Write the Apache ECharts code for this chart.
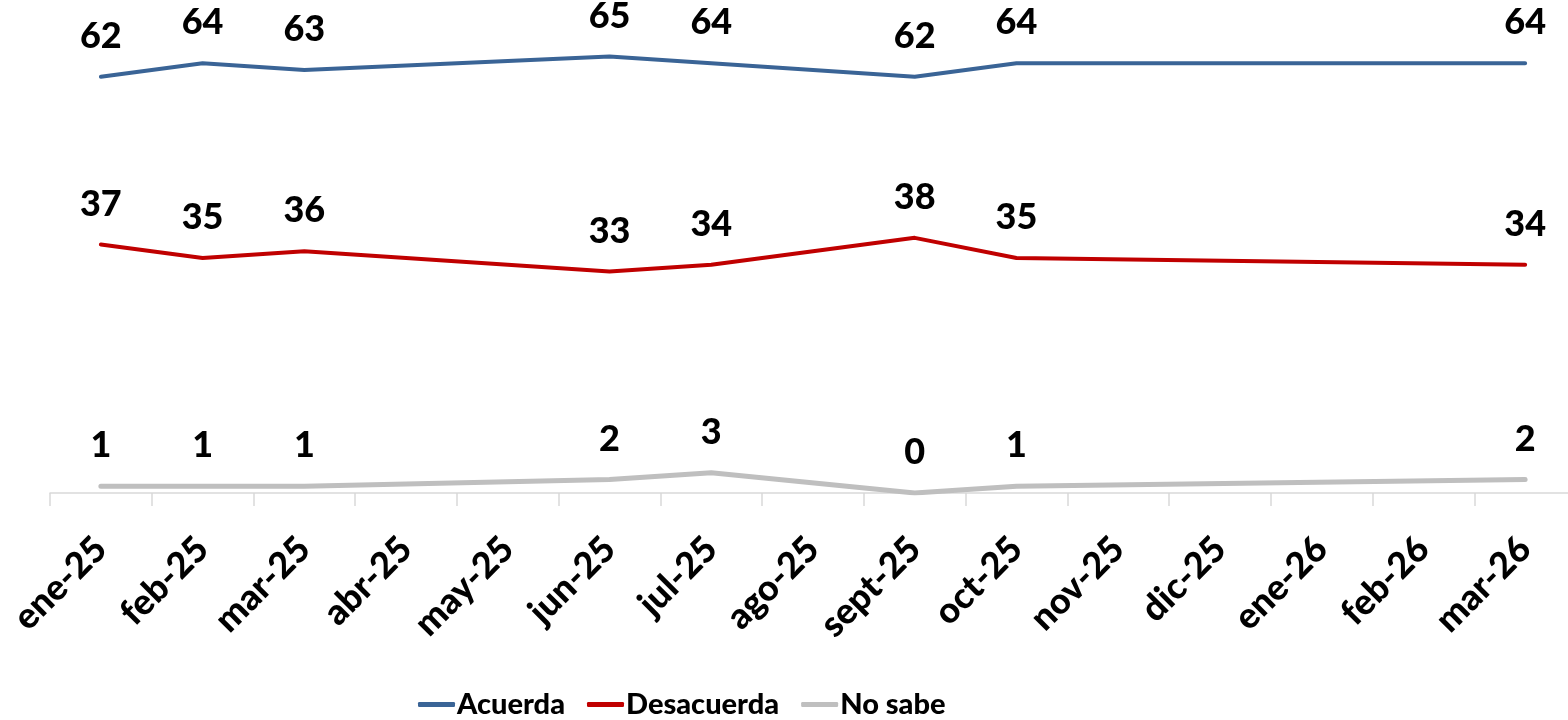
<!DOCTYPE html>
<html>
<head>
<meta charset="utf-8">
<script src="https://cdn.jsdelivr.net/npm/echarts@6/dist/echarts.min.js"></script>
<style>
  html, body { margin: 0; padding: 0; background: #fff; overflow: hidden; }
  #chart { width: 1576px; height: 720px; }
</style>
</head>
<body>
<div id="chart"></div>
<script>
// categorías (meses) y valores por serie; null = sin medición
var meses = ["ene-25", "feb-25", "mar-25", "abr-25", "may-25", "jun-25", "jul-25", "ago-25",
  "sept-25", "oct-25", "nov-25", "dic-25", "ene-26", "feb-26", "mar-26"];
var acuerda = [62, 64, 63, null, null, 65, 64, null, 62, 64, null, null, null, null, 64];
var desacuerda = [37, 35, 36, null, null, 33, 34, null, 38, 35, null, null, null, null, 34];
var noSabe = [1, 1, 1, null, null, 2, 3, null, 0, 1, null, null, null, null, 2];

var fuente = "Lato, 'Open Sans', sans-serif";

function serie(nombre, datos, color, ancho) {
  return {
    name: nombre,
    type: "line",
    data: datos,
    connectNulls: true,
    symbol: "circle",
    symbolSize: 1,
    itemStyle: { color: color },
    lineStyle: { color: color, width: ancho, cap: "round", join: "round" },
    label: {
      show: true,
      position: "top",
      distance: 22,
      color: "#000",
      fontFamily: fuente,
      fontWeight: 900,
      fontSize: 36
    },
    emphasis: { disabled: true }
  };
}

var mychart = echarts.init(document.getElementById("chart"));
var option = {
  animation: false,
  grid: { left: 50, top: 23, right: 0, bottom: 227, containLabel: false },
  xAxis: {
    type: "category",
    data: meses,
    boundaryGap: true,
    axisLine: { lineStyle: { color: "#d9d9d9", width: 1.5 } },
    axisTick: { show: true, length: 13, lineStyle: { color: "#d9d9d9", width: 1.5 } },
    axisLabel: {
      interval: 0,
      rotate: 45,
      margin: 50,
      color: "#000",
      fontFamily: fuente,
      fontWeight: 900,
      fontSize: 36
    }
  },
  yAxis: {
    type: "value",
    min: 0,
    max: 70,
    show: false
  },
  legend: {
    left: 413,
    top: 685,
    icon: "roundRect",
    itemWidth: 37,
    itemHeight: 5,
    itemGap: 22,
    textStyle: {
      color: "#000",
      fontFamily: fuente,
      fontWeight: 900,
      fontSize: 29,
      padding: [0, 0, 0, -3]
    },
    data: ["Acuerda", "Desacuerda", "No sabe"]
  },
  series: [
    serie("Acuerda", acuerda, "#3a6496", 4),
    serie("Desacuerda", desacuerda, "#c00000", 4),
    serie("No sabe", noSabe, "#bfbfbf", 5)
  ]
};
mychart.setOption(option);
</script>
</body>
</html>
